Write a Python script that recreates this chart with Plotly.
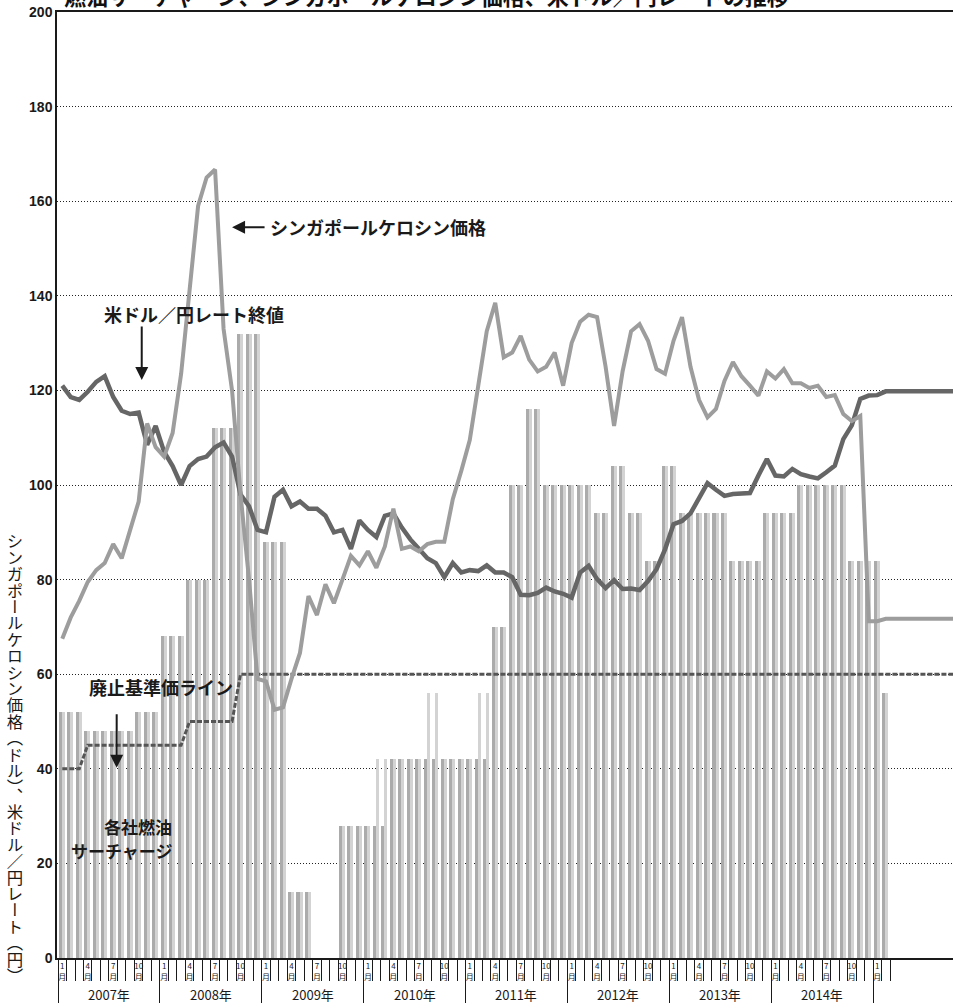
import plotly.graph_objects as go

# ---- data: monthly, January 2007 .. February 2015 ----
first_year = 2007
year_labels = ["2007年", "2008年", "2009年", "2010年", "2011年", "2012年", "2013年", "2014年"]

# fuel surcharges of the two carriers (dark / light bars)
surcharge_a = (
    [52] * 3 + [48] * 6 + [52] * 3 +            # 2007
    [68] * 3 + [80] * 3 + [112] * 3 + [132] * 3 +  # 2008
    [88] * 3 + [14] * 3 + [0] * 3 + [28] * 3 +     # 2009
    [28] * 3 + [42] * 9 +                          # 2010
    [42] * 3 + [70] * 2 + [100] * 2 + [116] * 2 + [100] * 3 +  # 2011
    [100] * 3 + [94] * 2 + [104] * 2 + [94] * 2 + [84] * 2 + [104] * 1 +  # 2012
    [104] * 1 + [94] * 6 + [84] * 4 + [94] * 1 +   # 2013
    [94] * 3 + [100] * 6 + [84] * 3 +              # 2014
    [84] * 1 + [56] * 1                            # 2015
)
surcharge_b = (
    [52] * 3 + [48] * 6 + [52] * 3 +
    [68] * 3 + [80] * 3 + [112] * 3 + [132] * 3 +
    [88] * 3 + [14] * 3 + [0] * 3 + [28] * 3 +
    [28] * 1 + [42] * 6 + [56] * 2 + [42] * 3 +
    [42] * 1 + [56] * 2 + [70] * 2 + [100] * 2 + [116] * 2 + [100] * 3 +
    [100] * 3 + [94] * 2 + [104] * 2 + [94] * 2 + [84] * 2 + [104] * 1 +
    [104] * 1 + [94] * 6 + [84] * 4 + [94] * 1 +
    [94] * 3 + [100] * 6 + [84] * 3 +
    [84] * 1 + [56] * 1
)

# Singapore kerosene price (USD/bbl)
kerosene = [
    67.5, 72.0, 75.5, 79.5, 82.0, 83.5, 87.5, 84.5, 90.5, 96.5, 113.0, 108.0,
    106.0, 111.0, 123.5, 141.5, 159.0, 165.0, 166.7, 133.0, 120.0, 98.0, 80.0, 59.0,
    58.5, 52.5, 53.0, 59.0, 64.5, 76.5, 72.5, 79.0, 75.0, 80.0, 85.0, 83.0,
    86.0, 82.5, 87.0, 95.0, 86.5, 87.0, 86.0, 87.5, 88.0, 88.0, 97.0, 103.0,
    109.5, 121.0, 132.5, 138.5, 127.0, 128.0, 131.5, 126.5, 124.0, 125.0, 128.0, 121.0,
    130.0, 134.5, 136.0, 135.5, 125.0, 112.5, 124.0, 132.5, 134.0, 130.5, 124.5, 123.5,
    130.5, 135.5, 125.0, 118.0, 114.3, 116.1, 122.0, 126.0, 123.0, 121.0, 118.9, 124.0,
    122.5, 124.5, 121.5, 121.5, 120.5, 121.0, 118.6, 119.0, 115.0, 113.5, 114.6, 71.2,
    71.2, 71.7,
]

# USD/JPY month-end rate
usdjpy = [
    121.0, 118.6, 118.0, 119.7, 121.8, 123.0, 118.6, 115.7, 115.0, 115.3, 108.5, 112.5,
    107.0, 104.0, 100.0, 104.0, 105.5, 106.0, 108.0, 109.0, 106.0, 98.0, 95.5, 90.5,
    90.0, 97.5, 99.0, 95.5, 96.5, 95.0, 95.0, 93.5, 90.0, 90.5, 86.5, 92.5,
    90.5, 89.0, 93.5, 94.0, 91.0, 88.5, 86.5, 84.5, 83.5, 80.5, 83.5, 81.5,
    82.0, 81.8, 83.0, 81.5, 81.5, 80.5, 76.8, 76.7, 77.2, 78.3, 77.5, 77.0,
    76.2, 81.5, 82.9, 80.1, 78.2, 79.9, 78.0, 78.1, 77.8, 79.7, 82.2, 86.4,
    91.7, 92.4, 94.0, 97.0, 100.4, 99.0, 97.7, 98.1, 98.2, 98.3, 102.0, 105.5,
    102.0, 101.8, 103.4, 102.3, 101.8, 101.4, 102.7, 104.1, 109.7, 112.6, 118.2, 118.9,
    119.0, 119.8,
]

# abolition threshold line
threshold = [40] * 3 + [45] * 12 + [50] * 6 + [60] * 77

months = list(range(len(kerosene)))
X_RANGE = [-0.62, 104.92]

GRID = "#222222"
INK = "#1a1a1a"
JP = "Noto Sans CJK JP"
NUM = "Liberation Sans Narrow, Liberation Sans, sans-serif"

fig = go.Figure()

# surcharge bars: two thin bars per month
fig.add_trace(go.Bar(x=months, y=surcharge_a, width=0.355, offset=-0.41,
                     marker=dict(color="#ababab", line=dict(width=0)),
                     showlegend=False, hoverinfo="skip"))
fig.add_trace(go.Bar(x=months, y=surcharge_b, width=0.355, offset=-0.055,
                     marker=dict(color="#d3d3d3", line=dict(width=0)),
                     showlegend=False, hoverinfo="skip"))

# lines are held flat at their latest value up to the right edge
ext_x = months + [X_RANGE[1]]
fig.add_trace(go.Scatter(x=ext_x, y=threshold + [threshold[-1]], mode="lines",
                         line=dict(color="#555555", width=3, dash="5px,2px"),
                         showlegend=False, hoverinfo="skip"))
fig.add_trace(go.Scatter(x=ext_x, y=usdjpy + [usdjpy[-1]], mode="lines",
                         line=dict(color="#666666", width=4.5),
                         showlegend=False, hoverinfo="skip"))
fig.add_trace(go.Scatter(x=ext_x, y=kerosene + [kerosene[-1]], mode="lines",
                         line=dict(color="#9d9d9d", width=4),
                         showlegend=False, hoverinfo="skip"))

# month labels (1, 4, 7, 10) stacked vertically
label_months = [m for m in months if m % 3 == 0]
label_text = [f"{m % 12 + 1}<br>月" for m in label_months]
month_edges = [m - 0.5 for m in months] + [months[-1] + 0.5]
year_edges = [m - 0.5 for m in months if m % 12 == 0]

fig.update_layout(
    width=953, height=1004,
    margin=dict(l=57, r=0, t=12, b=46),
    paper_bgcolor="white", plot_bgcolor="white",
    bargap=0, barmode="overlay",
    xaxis=dict(range=X_RANGE, tickvals=label_months, ticktext=label_text,
               ticks="", showgrid=False, zeroline=False,
               showline=True, linecolor=INK, linewidth=1.5, mirror=True,
               tickfont=dict(family=JP, size=8, color=INK)),
    xaxis2=dict(range=X_RANGE, overlaying="x", anchor="y", side="bottom",
                tickvals=month_edges, ticks="outside", ticklen=22,
                tickwidth=1, tickcolor=INK, showticklabels=False,
                showgrid=False, zeroline=False, showline=False),
    xaxis3=dict(range=X_RANGE, overlaying="x", anchor="y", side="bottom",
                tickvals=year_edges, ticks="outside", ticklen=44,
                tickwidth=1, tickcolor=INK, showticklabels=False,
                showgrid=False, zeroline=False, showline=False),
    yaxis=dict(range=[0, 200], tickvals=list(range(0, 201, 20)),
               showgrid=True, griddash="1px,2px", gridcolor=GRID, gridwidth=1,
               zeroline=False, showline=True, linecolor=INK, linewidth=1.5,
               ticks="", tickfont=dict(family=NUM, size=14, color=INK, weight="bold")),
)

# keep the tick-only axes alive
fig.add_trace(go.Scatter(x=[None], y=[None], xaxis="x2", showlegend=False))
fig.add_trace(go.Scatter(x=[None], y=[None], xaxis="x3", showlegend=False))

label_font = dict(family=JP, size=18, color=INK, weight="bold")
small_label_font = dict(family=JP, size=17, color=INK, weight="bold")
ann = []
# year labels
for k, lab in enumerate(year_labels):
    ann.append(dict(x=12 * k + 5.5, y=0, xref="x", yref="y", text=lab,
                    showarrow=False, yshift=-36,
                    font=dict(family=JP, size=13, color=INK)))
# title (runs off the top edge)
ann.append(dict(x=0, y=1, xref="paper", yref="paper", xanchor="left", yanchor="middle",
                xshift=5, yshift=17, showarrow=False,
                text="燃油サーチャージ、シンガポールケロシン価格、米ドル／円レートの推移",
                font=dict(family=JP, size=22, color="#111111", weight="bold")))
# series labels with arrows
ann.append(dict(x=20.0, y=154.5, xref="x", yref="y", ax=34, ay=0, text="",
                showarrow=True, arrowhead=2, arrowsize=1.3, arrowwidth=2, arrowcolor=INK))
ann.append(dict(x=24.2, y=154.5, xref="x", yref="y", xanchor="left", yanchor="middle",
                text="シンガポールケロシン価格", showarrow=False, font=label_font))
ann.append(dict(x=9.36, y=122.2, xref="x", yref="y", ax=0, ay=-55, text="",
                showarrow=True, arrowhead=2, arrowsize=1.3, arrowwidth=2, arrowcolor=INK))
ann.append(dict(x=4.65, y=136.2, xref="x", yref="y", xanchor="left", yanchor="middle",
                text="米ドル／円レート終値", showarrow=False, font=label_font))
ann.append(dict(x=6.41, y=40.2, xref="x", yref="y", ax=0, ay=-55, text="",
                showarrow=True, arrowhead=2, arrowsize=1.3, arrowwidth=2, arrowcolor=INK))
ann.append(dict(x=2.88, y=57.4, xref="x", yref="y", xanchor="left", yanchor="middle",
                text="廃止基準価ライン", showarrow=False, font=label_font))
ann.append(dict(x=13.2, y=27.8, xref="x", yref="y", xanchor="right", yanchor="middle",
                text="各社燃油", showarrow=False, font=small_label_font))
ann.append(dict(x=13.3, y=22.8, xref="x", yref="y", xanchor="right", yanchor="middle",
                text="サーチャージ", showarrow=False, font=small_label_font))
# vertical axis caption (set to vertical writing after render)
ann.append(dict(x=0, y=0.25, xref="paper", yref="paper", xanchor="center",
                xshift=-44, showarrow=False,
                text="シンガポールケロシン価格（ドル）、米ドル／円レート（円）",
                font=dict(family=JP, size=16.4, color=INK)))
fig.update_layout(annotations=ann)

vertical_js = """
var gd = document.getElementById('{plot_id}');
var t = Array.from(gd.querySelectorAll('text.annotation-text')).find(function(e){
  return e.textContent.indexOf('（ドル）') >= 0;
});
if (t) {
  t.style.writingMode = 'vertical-rl';
  t.setAttribute('writing-mode', 'vertical-rl');
  t.style.textAnchor = 'start';
  t.setAttribute('transform', '');
  var r = t.getBoundingClientRect();
  var dx = 23 - (r.left + r.width / 2);
  var dy = 541 - r.top;
  t.setAttribute('transform', 'translate(' + dx + ',' + dy + ')');
}
"""

fig.write_html("out.html", post_script=vertical_js)
